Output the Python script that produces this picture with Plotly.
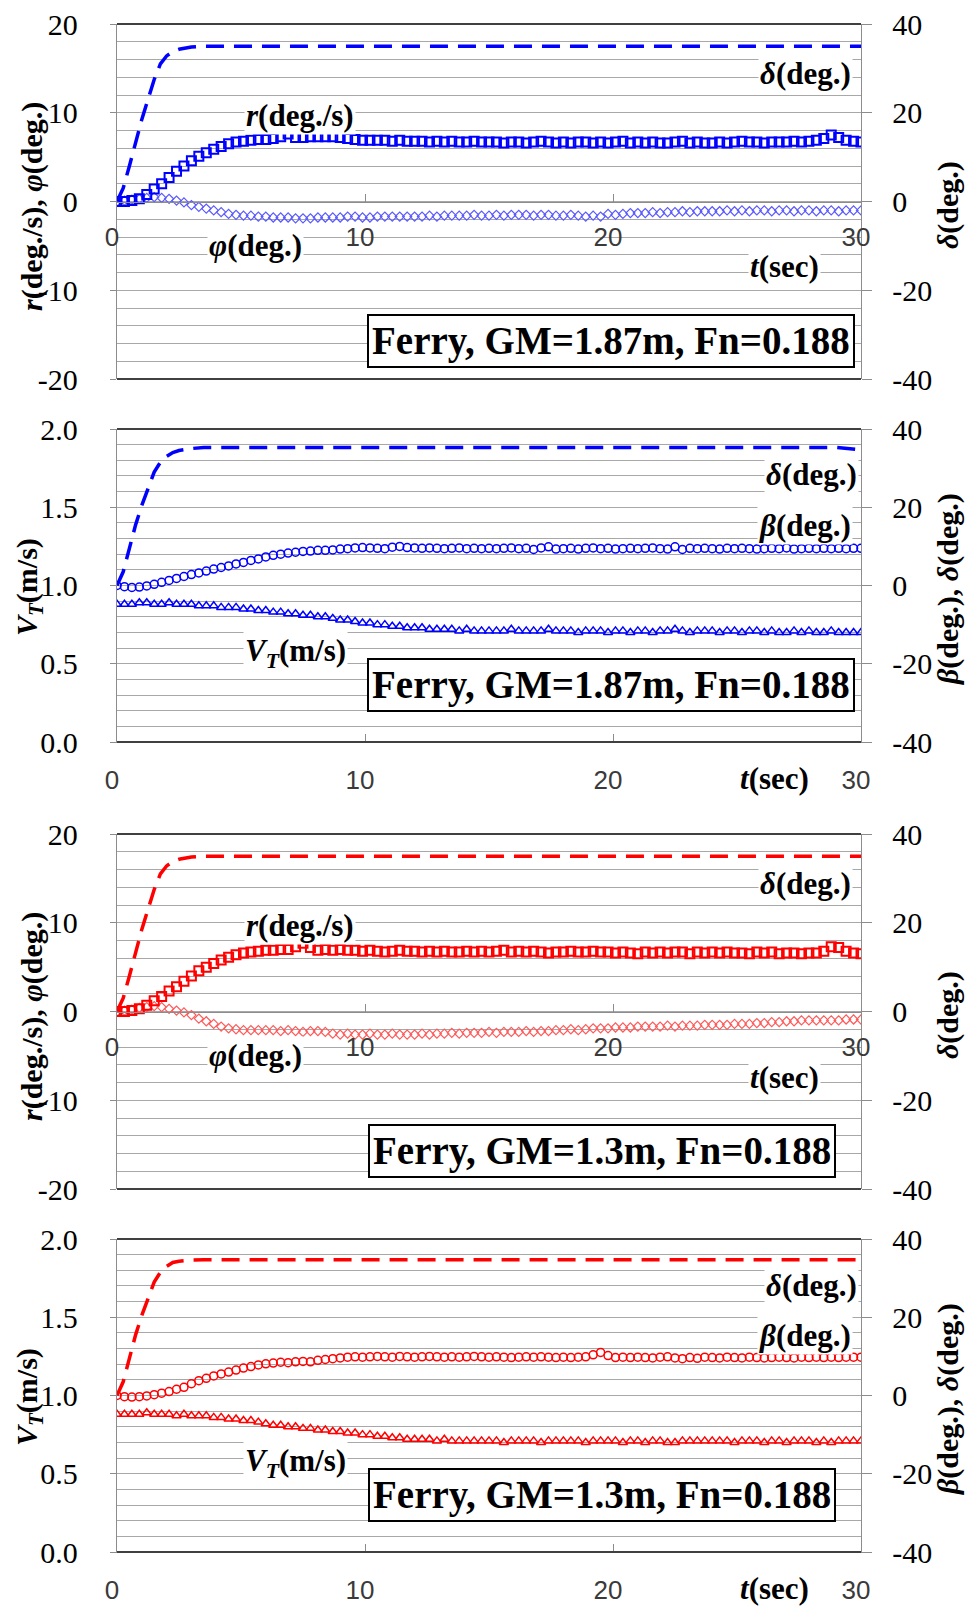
import plotly.graph_objects as go

# ---------------- data ----------------
T_STEP = 0.3
t = [round(i * T_STEP, 1) for i in range(101)]   # 0 ... 30 s

# Panel 1 : Ferry GM=1.87m  (blue)
r_187 = [0.0, 0.0, 0.1, 0.3, 0.8, 1.4, 2.0, 2.7, 3.4, 4.0,
         4.6, 5.1, 5.5, 5.9, 6.2, 6.5, 6.7, 6.8, 6.9, 7.0,
         7.0, 7.1, 7.3, 7.6, 7.2, 7.2, 7.3, 7.3, 7.3, 7.3,
         7.2, 7.1, 7.0, 6.9, 6.9, 6.9, 6.9, 6.8, 6.9, 6.8,
         6.8, 6.8, 6.7, 6.8, 6.7, 6.8, 6.7, 6.7, 6.8, 6.7,
         6.7, 6.7, 6.6, 6.7, 6.7, 6.6, 6.7, 6.8, 6.7, 6.6,
         6.7, 6.6, 6.7, 6.7, 6.6, 6.7, 6.6, 6.7, 6.8, 6.6,
         6.7, 6.6, 6.7, 6.6, 6.6, 6.7, 6.8, 6.6, 6.7, 6.6,
         6.6, 6.7, 6.6, 6.7, 6.8, 6.7, 6.7, 6.6, 6.7, 6.7,
         6.7, 6.8, 6.7, 6.8, 6.9, 7.1, 7.5, 7.2, 6.9, 6.8,
         6.7]
phi_187 = [0.0, 0.1, 0.2, 0.3, 0.4, 0.5, 0.4, 0.3, 0.1, -0.1,
           -0.4, -0.6, -0.8, -1.0, -1.2, -1.4, -1.5, -1.6, -1.6, -1.7,
           -1.7, -1.8, -1.8, -1.8, -1.9, -1.9, -1.9, -1.8, -1.8, -1.8,
           -1.8, -1.7, -1.7, -1.8, -1.8, -1.7, -1.7, -1.7, -1.7, -1.7,
           -1.7, -1.7, -1.6, -1.7, -1.6, -1.6, -1.6, -1.6, -1.5, -1.6,
           -1.6, -1.5, -1.6, -1.5, -1.5, -1.5, -1.6, -1.5, -1.5, -1.6,
           -1.6, -1.5, -1.6, -1.7, -1.6, -1.7, -1.4, -1.5, -1.4, -1.3,
           -1.3, -1.3, -1.2, -1.3, -1.2, -1.2, -1.1, -1.2, -1.1, -1.1,
           -1.1, -1.1, -1.0, -1.1, -1.0, -1.1, -1.0, -1.0, -1.1, -1.0,
           -1.0, -1.1, -1.0, -1.0, -1.1, -1.0, -1.0, -1.1, -1.0, -1.0,
           -1.0]
t_delta_1 = [0, 0.25, 0.5, 0.75, 1.0, 1.25, 1.5, 1.75, 2.0, 2.25, 2.5, 3.0, 3.5, 30]
delta_1 = [0, 3.0, 8.0, 13.5, 18.5, 23.0, 27.5, 31.0, 32.8, 33.8, 34.3, 34.8, 35.0, 35.0]

# Panel 2 : Ferry GM=1.87m  (blue)
vt_187 = [0.88, 0.88, 0.88, 0.89, 0.89, 0.88, 0.88, 0.89, 0.88, 0.88,
          0.88, 0.87, 0.87, 0.87, 0.86, 0.86, 0.86, 0.85, 0.85, 0.84,
          0.84, 0.83, 0.83, 0.82, 0.82, 0.81, 0.81, 0.80, 0.80, 0.79,
          0.78, 0.78, 0.77, 0.76, 0.76, 0.75, 0.75, 0.74, 0.74, 0.73,
          0.73, 0.73, 0.72, 0.72, 0.72, 0.72, 0.71, 0.72, 0.71, 0.71,
          0.71, 0.71, 0.71, 0.72, 0.71, 0.71, 0.71, 0.71, 0.72, 0.71,
          0.71, 0.71, 0.70, 0.71, 0.71, 0.71, 0.70, 0.71, 0.71, 0.70,
          0.71, 0.71, 0.70, 0.71, 0.71, 0.72, 0.71, 0.70, 0.71, 0.71,
          0.71, 0.70, 0.71, 0.71, 0.70, 0.71, 0.71, 0.70, 0.71, 0.70,
          0.70, 0.71, 0.70, 0.71, 0.70, 0.70, 0.71, 0.70, 0.70, 0.70,
          0.70]
beta_187 = [0.0, -0.3, -0.5, -0.4, -0.1, 0.3, 0.8, 1.3, 1.8, 2.3,
            2.8, 3.2, 3.7, 4.2, 4.6, 5.0, 5.5, 5.9, 6.4, 6.8,
            7.3, 7.7, 8.0, 8.3, 8.5, 8.7, 8.8, 9.0, 9.0, 9.1,
            9.3, 9.4, 9.6, 9.7, 9.6, 9.5, 9.4, 9.8, 10.0, 9.7,
            9.6, 9.5, 9.6, 9.5, 9.4, 9.5, 9.6, 9.4, 9.5, 9.4,
            9.5, 9.4, 9.5, 9.6, 9.4, 9.5, 9.2, 9.6, 9.9, 9.3,
            9.4, 9.5, 9.3, 9.5, 9.6, 9.4, 9.5, 9.3, 9.4, 9.5,
            9.4, 9.5, 9.6, 9.4, 9.3, 9.9, 9.2, 9.5, 9.4, 9.5,
            9.4, 9.3, 9.5, 9.4, 9.5, 9.4, 9.3, 9.4, 9.5, 9.4,
            9.6, 9.3, 9.4, 9.5, 9.4, 9.5, 9.4, 9.5, 9.4, 9.5,
            9.5]
t_delta_2 = [0, 0.25, 0.5, 0.75, 1.0, 1.25, 1.5, 1.75, 2.0, 2.25, 2.5, 3.0, 3.5, 29.0, 30]
delta_2 = [0, 3.5, 9.5, 15.5, 20.5, 25.0, 29.0, 31.5, 33.0, 34.0, 34.5, 35.0, 35.3, 35.3, 34.7]

# Panel 3 : Ferry GM=1.3m  (red)
r_13 = [0.0, 0.0, 0.1, 0.3, 0.7, 1.2, 1.7, 2.3, 2.8, 3.4,
        4.0, 4.6, 5.0, 5.4, 5.8, 6.1, 6.4, 6.6, 6.7, 6.8,
        6.9, 6.9, 7.0, 7.0, 7.3, 7.7, 7.2, 6.9, 7.0, 6.9,
        7.0, 6.9, 6.9, 6.8, 6.9, 6.8, 6.7, 6.8, 6.9, 6.8,
        6.8, 6.7, 6.8, 6.7, 6.8, 6.7, 6.7, 6.8, 6.7, 6.8,
        6.7, 6.8, 6.9, 6.7, 6.8, 6.7, 6.8, 6.7, 6.6, 6.7,
        6.7, 6.8, 6.7, 6.7, 6.8, 6.7, 6.7, 6.6, 6.7, 6.6,
        6.5, 6.7, 6.6, 6.7, 6.6, 6.7, 6.7, 6.5, 6.7, 6.6,
        6.7, 6.6, 6.7, 6.6, 6.6, 6.5, 6.7, 6.6, 6.7, 6.5,
        6.6, 6.6, 6.5, 6.6, 6.6, 6.8, 7.3, 7.2, 6.8, 6.6,
        6.5]
phi_13 = [0.0, 0.1, 0.2, 0.4, 0.5, 0.6, 0.5, 0.3, 0.1, -0.1,
          -0.4, -0.8, -1.1, -1.4, -1.7, -1.9, -2.0, -2.1, -2.1, -2.1,
          -2.1, -2.1, -2.2, -2.1, -2.2, -2.3, -2.2, -2.2, -2.3, -2.5,
          -2.6, -2.5, -2.6, -2.6, -2.5, -2.6, -2.6, -2.5, -2.6, -2.6,
          -2.6, -2.5, -2.6, -2.5, -2.5, -2.4, -2.5, -2.4, -2.4, -2.4,
          -2.3, -2.4, -2.3, -2.3, -2.3, -2.2, -2.3, -2.2, -2.2, -2.1,
          -2.1, -2.0, -2.1, -2.0, -1.9, -1.9, -1.9, -1.8, -1.8, -1.8,
          -1.7, -1.7, -1.7, -1.7, -1.6, -1.7, -1.6, -1.6, -1.6, -1.5,
          -1.5, -1.5, -1.5, -1.4, -1.4, -1.4, -1.3, -1.3, -1.2, -1.2,
          -1.1, -1.1, -1.0, -1.0, -1.0, -1.0, -1.0, -1.0, -0.9, -0.9,
          -0.9]
t_delta_3 = [0, 0.25, 0.5, 0.75, 1.0, 1.25, 1.5, 1.75, 2.0, 2.25, 2.5, 3.0, 3.5, 30]
delta_3 = [0, 3.0, 8.0, 13.5, 18.5, 23.0, 27.5, 31.0, 32.8, 33.8, 34.3, 34.8, 35.0, 35.0]

# Panel 4 : Ferry GM=1.3m  (red)
vt_13 = [0.88, 0.88, 0.88, 0.88, 0.89, 0.88, 0.88, 0.88, 0.87, 0.88,
         0.87, 0.87, 0.87, 0.86, 0.86, 0.85, 0.85, 0.84, 0.84, 0.83,
         0.82, 0.81, 0.81, 0.80, 0.80, 0.79, 0.79, 0.78, 0.78, 0.77,
         0.77, 0.76, 0.76, 0.75, 0.75, 0.74, 0.74, 0.73, 0.73, 0.72,
         0.72, 0.72, 0.72, 0.71, 0.72, 0.71, 0.71, 0.71, 0.71, 0.71,
         0.71, 0.71, 0.70, 0.71, 0.71, 0.71, 0.71, 0.70, 0.71, 0.71,
         0.71, 0.71, 0.71, 0.70, 0.71, 0.71, 0.71, 0.71, 0.70, 0.71,
         0.71, 0.70, 0.71, 0.71, 0.70, 0.70, 0.71, 0.71, 0.71, 0.71,
         0.71, 0.71, 0.71, 0.70, 0.71, 0.71, 0.71, 0.70, 0.71, 0.71,
         0.70, 0.71, 0.71, 0.71, 0.70, 0.71, 0.70, 0.71, 0.71, 0.71,
         0.71]
beta_13 = [0.0, -0.3, -0.4, -0.3, -0.1, 0.2, 0.6, 1.0, 1.6, 2.1,
           3.0, 3.8, 4.4, 5.0, 5.5, 6.0, 6.5, 7.0, 7.4, 7.8,
           8.1, 8.3, 8.5, 8.4, 8.6, 8.7, 8.6, 9.0, 9.2, 9.4,
           9.6, 9.8, 9.9, 9.8, 9.9, 10.0, 9.9, 9.8, 10.0, 9.9,
           9.8, 9.9, 10.0, 9.9, 9.8, 9.9, 9.8, 9.9, 10.0, 9.9,
           9.8, 9.9, 9.8, 9.7, 9.8, 9.9, 9.8, 9.9, 9.8, 9.7,
           9.8, 9.7, 9.8, 9.9, 10.4, 11.0, 10.2, 9.7, 9.8, 9.7,
           9.8, 9.7, 9.6, 9.8, 9.9, 9.6, 9.4, 9.7, 9.5, 9.8,
           9.7, 9.6, 9.8, 9.7, 9.6, 9.8, 9.7, 9.6, 9.7, 9.8,
           9.7, 9.6, 9.8, 9.7, 9.8, 9.7, 9.8, 9.7, 9.8, 9.8,
           9.8]
t_delta_4 = [0, 0.25, 0.5, 0.75, 1.0, 1.25, 1.5, 1.75, 2.0, 2.25, 2.5, 3.0, 3.5, 30]
delta_4 = [0, 3.5, 9.5, 15.5, 20.5, 25.0, 29.0, 31.5, 33.0, 34.0, 34.3, 34.6, 34.7, 34.7]

x_tickvals = [0, 10, 20, 30]
x_ticktext = ["0", "10", "20", "30"]
rate_tickvals = [-20, -10, 0, 10, 20]
rate_ticktext = ["-20", "-10", "0", "10", "20"]
vt_tickvals = [0.0, 0.5, 1.0, 1.5, 2.0]
vt_ticktext = ["0.0", "0.5", "1.0", "1.5", "2.0"]
deg_tickvals = [-40, -20, 0, 20, 40]
deg_ticktext = ["-40", "-20", "0", "20", "40"]

# ---------------- styling / layout ----------------
OFF = 0                      # body margin is removed by the post script
W, H = 969, 1607
SERIF = "Liberation Serif"
SANS = "Liberation Sans"
BLUE, BLUE_L = "#0000ff", "#5a5aff"
RED, RED_L = "#ff0000", "#ff5a5a"
GRID = "#a8a8a8"
AXIS = "#8c8c8c"
DARK = "#404040"


def px(x):
    return (x - OFF) / W


def py(y):
    return 1 - (y - OFF) / H


def xid(k):
    return "x" if k == 1 else f"x{k}"


def yid(n):
    return "y" if n == 1 else f"y{n}"


def lkey(prefix, n):
    return prefix if n == 1 else f"{prefix}{n}"


X_LEFT, X_RIGHT = 117, 861
PANELS = [(24, 379), (429, 742), (834, 1189), (1239, 1552)]

fig = go.Figure()


def add_markers(k, axis_side, x, y, symbol, size, color, lw, name):
    yname = yid(2 * k - 1) if axis_side == "left" else yid(2 * k)
    fig.add_trace(go.Scatter(
        x=x, y=y, mode="markers", name=name, xaxis=xid(k), yaxis=yname,
        marker=dict(symbol=symbol, size=size, color=color, line=dict(width=lw, color=color)),
        showlegend=False))


def add_delta(k, x, y, color, name):
    fig.add_trace(go.Scatter(
        x=x, y=y, mode="lines", name=name, xaxis=xid(k), yaxis=yid(2 * k),
        line=dict(color=color, width=3.5, dash="18px,10px"), showlegend=False))


# panel 1
add_markers(1, "left", t, phi_187, "diamond-open", 7, BLUE_L, 1.2, "phi")
add_markers(1, "left", t, r_187, "square-open", 9, BLUE, 2, "r")
add_delta(1, t_delta_1, delta_1, BLUE, "delta")
# panel 2
add_markers(2, "left", t, vt_187, "triangle-up-open", 8, BLUE, 1.5, "VT")
add_markers(2, "right", t, beta_187, "circle-open", 8, BLUE, 1.5, "beta")
add_delta(2, t_delta_2, delta_2, BLUE, "delta")
# panel 3
add_markers(3, "left", t, phi_13, "diamond-open", 7, RED_L, 1.2, "phi")
add_markers(3, "left", t, r_13, "square-open", 9, RED, 2, "r")
add_delta(3, t_delta_3, delta_3, RED, "delta")
# panel 4
add_markers(4, "left", t, vt_13, "triangle-up-open", 8, RED, 1.5, "VT")
add_markers(4, "right", t, beta_13, "circle-open", 8, RED, 1.5, "beta")
add_delta(4, t_delta_4, delta_4, RED, "delta")

layout = dict(width=W, height=H, margin=dict(l=0, r=0, t=0, b=0),
              paper_bgcolor="white", plot_bgcolor="white", showlegend=False)
shapes = []
for k in range(1, 5):
    top, bot = PANELS[k - 1]
    dom = [py(bot), py(top)]
    rate = k in (1, 3)
    xa = dict(domain=[px(X_LEFT), px(X_RIGHT)], range=[0, 30],
              tickmode="array", tickvals=x_tickvals, ticktext=x_ticktext,
              ticks="inside", ticklen=8, tickcolor=AXIS, tickwidth=1,
              showline=True, linecolor=AXIS, linewidth=1.2,
              showgrid=False, zeroline=False, automargin=False, fixedrange=True,
              tickfont=dict(family=SANS, size=26, color="#3a3a3a"),
              ticklabelstandoff=12 if rate else 15, ticklabelshift=-5,
              ticklabeloverflow="allow")
    if rate:
        xa.update(anchor="free", position=(dom[0] + dom[1]) / 2)
    else:
        xa.update(anchor=yid(2 * k - 1))
    layout[lkey("xaxis", k)] = xa

    ya = dict(domain=dom, anchor=xid(k), side="left",
              range=[-20, 20] if rate else [0, 2],
              tickmode="array",
              tickvals=rate_tickvals if rate else vt_tickvals,
              ticktext=rate_ticktext if rate else vt_ticktext,
              ticks="outside", ticklen=6, tickcolor=AXIS,
              showline=True, linecolor=AXIS, linewidth=1.2,
              showgrid=True, gridcolor=GRID, gridwidth=1,
              minor=dict(tickmode="linear", tick0=0, dtick=2 if rate else 0.1,
                         showgrid=True, gridcolor=GRID, gridwidth=1, ticks=""),
              zeroline=False, automargin=False, fixedrange=True,
              tickfont=dict(family=SERIF, size=30, color="black"),
              ticklabelstandoff=26, ticklabeloverflow="allow")
    layout[lkey("yaxis", 2 * k - 1)] = ya
    yb = dict(overlaying=yid(2 * k - 1), anchor=xid(k), side="right",
              range=[-40, 40], tickmode="array",
              tickvals=deg_tickvals, ticktext=deg_ticktext,
              ticks="outside", ticklen=10, tickcolor=AXIS,
              showline=True, linecolor=AXIS, linewidth=1.2,
              showgrid=False, zeroline=False, automargin=False, fixedrange=True,
              tickfont=dict(family=SERIF, size=30, color="black"),
              ticklabelstandoff=14, ticklabeloverflow="allow")
    layout[lkey("yaxis", 2 * k)] = yb
    for yy in (0, 1):
        shapes.append(dict(type="line", xref=f"{xid(k)} domain", yref=f"{yid(2 * k - 1)} domain",
                           x0=0, x1=1, y0=yy, y1=yy, line=dict(color=DARK, width=2)))
layout["shapes"] = shapes


def label(text, x, y, size=31, angle=0, bg="white", **kw):
    return dict(text=text, x=px(x), y=py(y), xref="paper", yref="paper",
                xanchor="center", yanchor="middle", showarrow=False, textangle=angle,
                font=dict(family=SERIF, size=size, color="black"),
                bgcolor=bg, borderpad=1, **kw)


D_LAB = "<b><i>δ</i>(deg.)</b>"
R_LAB = "<b><i>r</i>(deg./s)</b>"
PHI_LAB = "<b><i>φ</i>(deg.)</b>"
T_LAB = "<b><i>t</i>(sec)</b>"
B_LAB = "<b><i>β</i>(deg.)</b>"
VT_LAB = "<b><i>V<sub>T</sub></i>(m/s)</b>"
TITLE_RATE = "<b><i>r</i>(deg./s), <i>φ</i>(deg.)</b>"
TITLE_BD = "<b><i>β</i>(deg.), <i>δ</i>(deg.)</b>"
BOX_187 = "<b>Ferry, GM=1.87m, Fn=0.188</b>"
BOX_13 = "<b>Ferry, GM=1.3m, Fn=0.188</b>"

ann = []
for off, box_txt, box_x in ((0, BOX_187, 611), (810, BOX_13, 602)):
    # rate panel
    ann += [label(D_LAB, 805, 73 + off), label(R_LAB, 300, 115 + off),
            label(PHI_LAB, 255, 245 + off), label(T_LAB, 784, 267 + off),
            label(TITLE_RATE, 32, 207 + off, size=30, angle=-90, bg="rgba(0,0,0,0)"),
            label(D_LAB, 948, 205 + off, size=30, angle=-90, bg="rgba(0,0,0,0)")]
    b = label(box_txt, box_x, 341 + off, size=39)
    b.update(bordercolor="black", borderwidth=2, borderpad=3)
    ann.append(b)
    # speed panel
    ann += [label(D_LAB, 811, 475 + off), label(B_LAB, 805, 525 + off),
            label(VT_LAB, 295, 653 + off), label(T_LAB, 774, 778 + off, bg="rgba(0,0,0,0)"),
            label(VT_LAB, 29, 587 + off, size=30, angle=-90, bg="rgba(0,0,0,0)"),
            label(TITLE_BD, 948, 589 + off, size=30, angle=-90, bg="rgba(0,0,0,0)")]
    b = label(box_txt, box_x, 685 + off, size=39)
    b.update(bordercolor="black", borderwidth=2, borderpad=3)
    ann.append(b)
layout["annotations"] = ann

fig.update_layout(**layout)
fig.write_html("out.html",
               config={"displayModeBar": False, "staticPlot": True},
               post_script="document.body.style.margin='0px';"
                           "document.body.style.overflow='hidden';")
